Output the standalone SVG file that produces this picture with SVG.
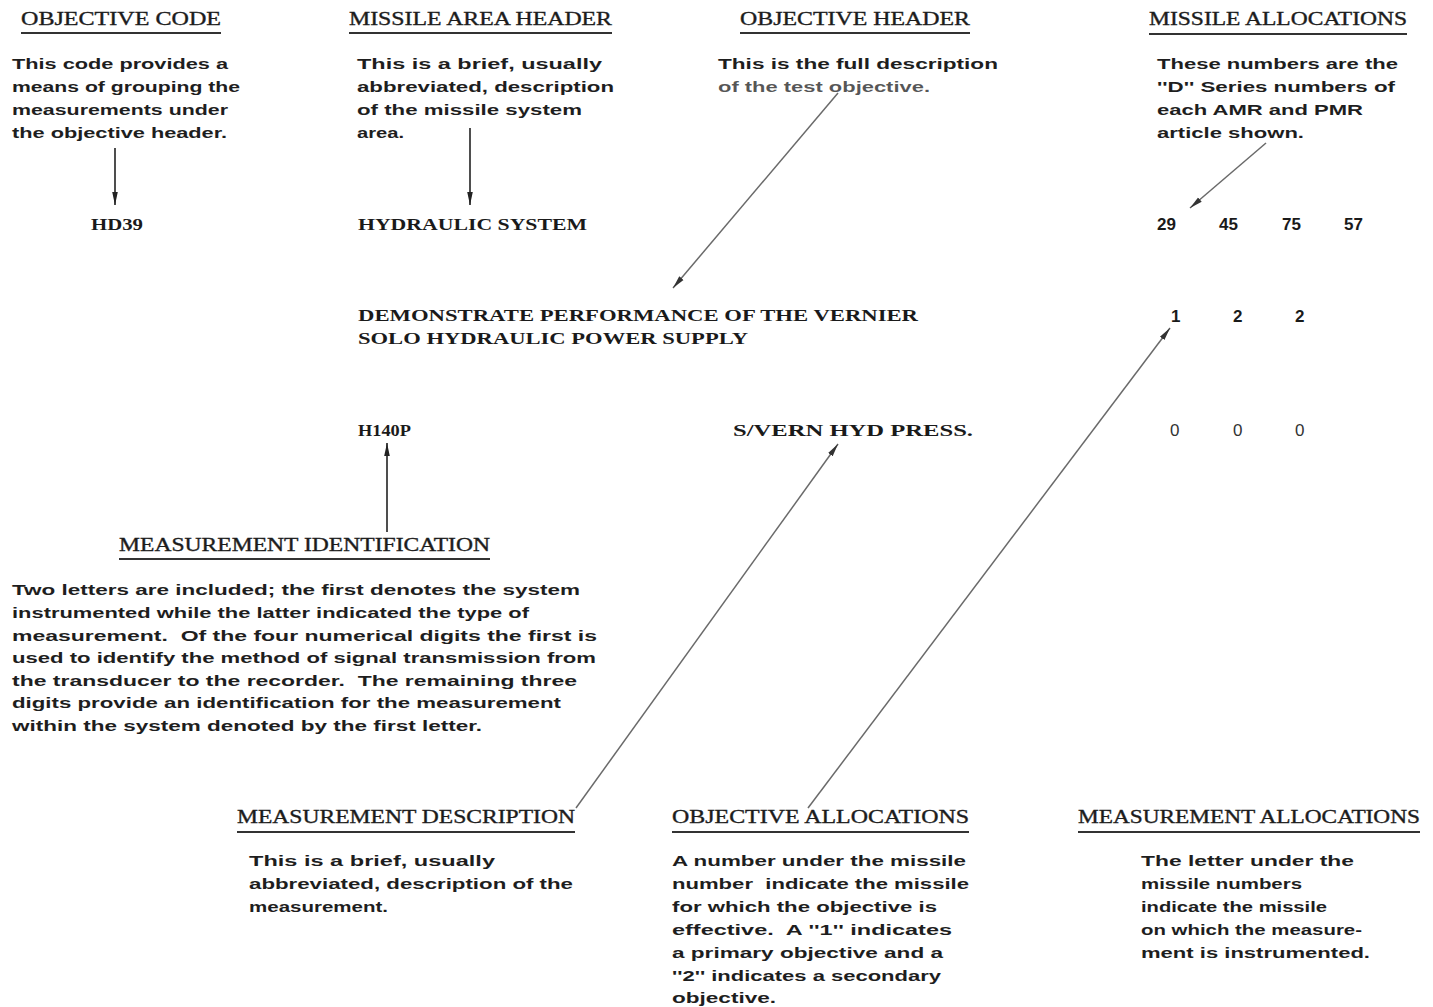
<svg xmlns="http://www.w3.org/2000/svg" width="1433" height="1007" viewBox="0 0 1433 1007">
<style>
text{white-space:pre}
.bg{fill:#ffffff}
.hd{font-family:"Liberation Serif",serif;font-size:18.5px;fill:#1c1c1c;stroke:#1c1c1c;stroke-width:0.35;}
.ul{stroke:#333;stroke-width:2;}
.bd{font-family:"Liberation Sans",Arial,sans-serif;font-size:15.5px;font-weight:bold;fill:#1e1e1e;}
.dt{font-family:"Liberation Serif",serif;font-size:17.5px;font-weight:bold;fill:#1a1a1a;}
.num{font-family:"Liberation Sans",Arial,sans-serif;font-size:17px;font-weight:bold;fill:#1a1a1a;}
.zero{font-family:"Liberation Sans",Arial,sans-serif;font-size:17px;fill:#333;}
.dark{stroke:#222;stroke-width:1.6;fill:none;}
.gray{stroke:#6a6a6a;stroke-width:1.5;fill:none;}
</style>
<defs>
<marker id="ahD" markerUnits="userSpaceOnUse" markerWidth="14" markerHeight="8" refX="13" refY="4" orient="auto">
<path d="M0,1.2 L13,4 L0,6.8 Z" fill="#222"/>
</marker>
<marker id="ahG" markerUnits="userSpaceOnUse" markerWidth="14" markerHeight="8" refX="13" refY="4" orient="auto">
<path d="M0,1.2 L13,4 L0,6.8 Z" fill="#333"/>
</marker>
</defs>
<rect class="bg" x="0" y="0" width="1433" height="1007"/>

<g id="objective-code">
<text class="hd" x="21" y="25" textLength="200" lengthAdjust="spacingAndGlyphs">OBJECTIVE CODE</text>
<line class="ul" x1="21" y1="33" x2="221" y2="33"/>
<text class="bd" x="12" y="69" textLength="216" lengthAdjust="spacingAndGlyphs">This code provides a</text>
<text class="bd" x="12" y="92" textLength="228" lengthAdjust="spacingAndGlyphs">means of grouping the</text>
<text class="bd" x="12" y="115" textLength="216" lengthAdjust="spacingAndGlyphs">measurements under</text>
<text class="bd" x="12" y="138" textLength="215" lengthAdjust="spacingAndGlyphs">the objective header.</text>
</g>

<g id="missile-area-header">
<text class="hd" x="349" y="25" textLength="263" lengthAdjust="spacingAndGlyphs">MISSILE AREA HEADER</text>
<line class="ul" x1="349" y1="33" x2="612" y2="33"/>
<text class="bd" x="357" y="69" textLength="245" lengthAdjust="spacingAndGlyphs">This is a brief, usually</text>
<text class="bd" x="357" y="92" textLength="257" lengthAdjust="spacingAndGlyphs">abbreviated, description</text>
<text class="bd" x="357" y="115" textLength="225" lengthAdjust="spacingAndGlyphs">of the missile system</text>
<text class="bd" x="357" y="138" textLength="47" lengthAdjust="spacingAndGlyphs">area.</text>
</g>

<g id="objective-header">
<text class="hd" x="740" y="25" textLength="230" lengthAdjust="spacingAndGlyphs">OBJECTIVE HEADER</text>
<line class="ul" x1="740" y1="33" x2="970" y2="33"/>
<text class="bd" x="718" y="69" textLength="280" lengthAdjust="spacingAndGlyphs">This is the full description</text>
<text class="bd" x="718" y="92" textLength="212" lengthAdjust="spacingAndGlyphs" fill-opacity="0.75">of the test objective.</text>
</g>

<g id="missile-allocations">
<text class="hd" x="1149" y="25" textLength="258" lengthAdjust="spacingAndGlyphs">MISSILE ALLOCATIONS</text>
<line class="ul" x1="1149" y1="34" x2="1407" y2="34"/>
<text class="bd" x="1157" y="69" textLength="241" lengthAdjust="spacingAndGlyphs">These numbers are the</text>
<text class="bd" x="1157" y="92" textLength="238" lengthAdjust="spacingAndGlyphs">''D'' Series numbers of</text>
<text class="bd" x="1157" y="115" textLength="206" lengthAdjust="spacingAndGlyphs">each AMR and PMR</text>
<text class="bd" x="1157" y="138" textLength="147" lengthAdjust="spacingAndGlyphs">article shown.</text>
</g>

<g id="row-objective-code">
<text class="dt" x="91" y="230" textLength="52" lengthAdjust="spacingAndGlyphs">HD39</text>
</g>
<g id="row-missile-area">
<text class="dt" x="358" y="230" textLength="229" lengthAdjust="spacingAndGlyphs">HYDRAULIC SYSTEM</text>
</g>
<g id="row-missile-numbers">
<text class="num" x="1157" y="230">29</text>
<text class="num" x="1219" y="230">45</text>
<text class="num" x="1282" y="230">75</text>
<text class="num" x="1344" y="230">57</text>
</g>

<g id="row-objective-header">
<text class="dt" x="358" y="321" textLength="560" lengthAdjust="spacingAndGlyphs">DEMONSTRATE PERFORMANCE OF THE VERNIER</text>
<text class="dt" x="358" y="344" textLength="390" lengthAdjust="spacingAndGlyphs">SOLO HYDRAULIC POWER SUPPLY</text>
</g>
<g id="row-objective-allocations">
<text class="num" x="1171" y="322">1</text>
<text class="num" x="1233" y="322">2</text>
<text class="num" x="1295" y="322">2</text>
</g>

<g id="row-measurement-id">
<text class="dt" x="358" y="436" textLength="53" lengthAdjust="spacingAndGlyphs">H140P</text>
</g>
<g id="row-measurement-description">
<text class="dt" x="733" y="436" textLength="240" lengthAdjust="spacingAndGlyphs">S/VERN HYD PRESS.</text>
</g>
<g id="row-measurement-allocations">
<text class="zero" x="1170" y="436">0</text>
<text class="zero" x="1233" y="436">0</text>
<text class="zero" x="1295" y="436">0</text>
</g>

<g id="measurement-identification">
<text class="hd" x="119" y="551" textLength="371" lengthAdjust="spacingAndGlyphs">MEASUREMENT IDENTIFICATION</text>
<line class="ul" x1="119" y1="559" x2="490" y2="559"/>
<text class="bd" x="12" y="595" textLength="568" lengthAdjust="spacingAndGlyphs">Two letters are included; the first denotes the system</text>
<text class="bd" x="12" y="618" textLength="517" lengthAdjust="spacingAndGlyphs">instrumented while the latter indicated the type of</text>
<text class="bd" x="12" y="641" textLength="585" lengthAdjust="spacingAndGlyphs">measurement.  Of the four numerical digits the first is</text>
<text class="bd" x="12" y="663" textLength="584" lengthAdjust="spacingAndGlyphs">used to identify the method of signal transmission from</text>
<text class="bd" x="12" y="686" textLength="565" lengthAdjust="spacingAndGlyphs">the transducer to the recorder.  The remaining three</text>
<text class="bd" x="12" y="708" textLength="549" lengthAdjust="spacingAndGlyphs">digits provide an identification for the measurement</text>
<text class="bd" x="12" y="731" textLength="470" lengthAdjust="spacingAndGlyphs">within the system denoted by the first letter.</text>
</g>

<g id="measurement-description">
<text class="hd" x="237" y="823" textLength="338" lengthAdjust="spacingAndGlyphs">MEASUREMENT DESCRIPTION</text>
<line class="ul" x1="237" y1="832" x2="575" y2="832"/>
<text class="bd" x="249" y="866" textLength="246" lengthAdjust="spacingAndGlyphs">This is a brief, usually</text>
<text class="bd" x="249" y="889" textLength="324" lengthAdjust="spacingAndGlyphs">abbreviated, description of the</text>
<text class="bd" x="249" y="912" textLength="139" lengthAdjust="spacingAndGlyphs">measurement.</text>
</g>

<g id="objective-allocations">
<text class="hd" x="672" y="823" textLength="297" lengthAdjust="spacingAndGlyphs">OBJECTIVE ALLOCATIONS</text>
<line class="ul" x1="672" y1="832" x2="969" y2="832"/>
<text class="bd" x="672" y="866" textLength="294" lengthAdjust="spacingAndGlyphs">A number under the missile</text>
<text class="bd" x="672" y="889" textLength="297" lengthAdjust="spacingAndGlyphs">number  indicate the missile</text>
<text class="bd" x="672" y="912" textLength="265" lengthAdjust="spacingAndGlyphs">for which the objective is</text>
<text class="bd" x="672" y="935" textLength="280" lengthAdjust="spacingAndGlyphs">effective.  A ''1'' indicates</text>
<text class="bd" x="672" y="958" textLength="271" lengthAdjust="spacingAndGlyphs">a primary objective and a</text>
<text class="bd" x="672" y="981" textLength="269" lengthAdjust="spacingAndGlyphs">''2'' indicates a secondary</text>
<text class="bd" x="672" y="1003" textLength="104" lengthAdjust="spacingAndGlyphs">objective.</text>
</g>

<g id="measurement-allocations">
<text class="hd" x="1078" y="823" textLength="342" lengthAdjust="spacingAndGlyphs">MEASUREMENT ALLOCATIONS</text>
<line class="ul" x1="1078" y1="832" x2="1420" y2="832"/>
<text class="bd" x="1141" y="866" textLength="213" lengthAdjust="spacingAndGlyphs">The letter under the</text>
<text class="bd" x="1141" y="889" textLength="161" lengthAdjust="spacingAndGlyphs">missile numbers</text>
<text class="bd" x="1141" y="912" textLength="186" lengthAdjust="spacingAndGlyphs">indicate the missile</text>
<text class="bd" x="1141" y="935" textLength="221" lengthAdjust="spacingAndGlyphs">on which the measure-</text>
<text class="bd" x="1141" y="958" textLength="229" lengthAdjust="spacingAndGlyphs">ment is instrumented.</text>
</g>

<g id="connectors">
<line class="dark" x1="115" y1="148" x2="115" y2="205" marker-end="url(#ahD)"/>
<line class="dark" x1="470" y1="128" x2="470" y2="205" marker-end="url(#ahD)"/>
<line class="gray" x1="838" y1="93" x2="673" y2="288" marker-end="url(#ahG)"/>
<line class="gray" x1="1266" y1="143" x2="1190" y2="208" marker-end="url(#ahG)"/>
<line class="dark" x1="387" y1="532" x2="387" y2="443" marker-end="url(#ahD)"/>
<line class="gray" x1="576" y1="808" x2="838" y2="444" marker-end="url(#ahG)"/>
<line class="gray" x1="808" y1="808" x2="1170" y2="328" marker-end="url(#ahG)"/>
</g>
</svg>
